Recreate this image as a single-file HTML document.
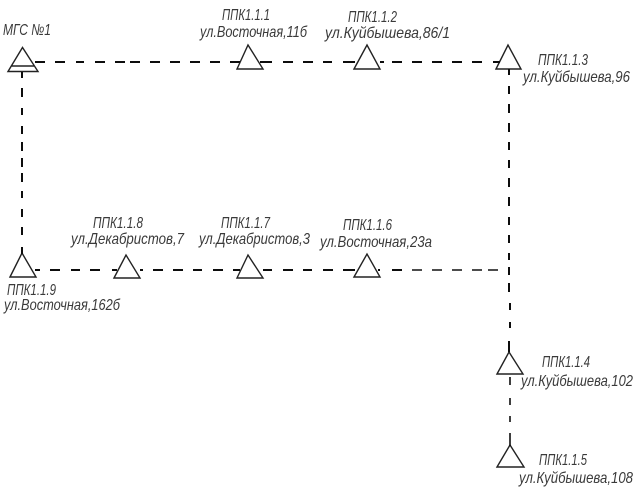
<!DOCTYPE html>
<html>
<head>
<meta charset="utf-8">
<style>
html,body{margin:0;padding:0;background:#fff}
svg{display:block}
text{font-family:"Liberation Sans","DejaVu Sans",sans-serif;font-style:italic;font-size:16px;fill:#3a3a3a;stroke:none}
</style>
</head>
<body>
<svg width="638" height="492" viewBox="0 0 638 492" xmlns="http://www.w3.org/2000/svg">
<defs><filter id="b" x="-5%" y="-5%" width="110%" height="110%"><feGaussianBlur stdDeviation="0.35"/></filter></defs>
<g filter="url(#b)">
<g fill="none" stroke="#222" stroke-width="1.4">
<path d="M8 71.5L22.5 47.5L38 71.5ZM11 66H34"/>
<path d="M237 69L248 45L263 69Z"/>
<path d="M354 69L367 45L380 69Z"/>
<path d="M496 69L508 45L521 69Z"/>
<path d="M10 277L22 253L36 277Z"/>
<path d="M114 278L126 255L140 278Z"/>
<path d="M237 278L248 255L263 278Z"/>
<path d="M354 277L367 254L380 277Z"/>
<path d="M497 374L509 352L523 374Z"/>
<path d="M497 467L510 445L524 467Z"/>
</g>
<g fill="none" stroke="#111" stroke-width="2">
<path d="M35 62H45M55 62H65M76 62H84M95 62H105M115 62H125M130 62H140M150 62H160M170 62H180M190 62H200M210 62H220M230 62H240M260 62H272M283 62H293M303 62H313M323 62H332M343 62H355M380 62H384M392 62H402M412 62H422M432 62H442M452 62H462M472 62H482M493 62H500"/>
<path d="M35 270H40M50 270H60M71 270H80M90 270H100M112 270H117M140 270H143M153 270H163M173 270H183M193 270H202M213 270H223M233 270H240M263 270H272M283 270H293M303 270H312M323 270H333M343 270H355M378 270H380M392 270H402"/>
<path d="M412 270H422M432 270H442M452 270H462M472 270H482M488 270H498" stroke-width="1.4"/>
<path d="M22 72V78M22 88V97M22 108V115M22 126V134M22 142V151M22 158V167M22 173V182M22 191V198M22 209V217M22 227V235M22 247V254"/>
<path d="M509 69V75M509 86V94M509 104V113M509 123V132M509 142V150M509 160V168M509 178V187M509 197V206M509 217V225M509 235V243M509 253V260M509 267V275M509 283V292M510 303V310M510 322V328M509 341V352"/>
<path d="M510 377V385M510 398V405M510 416V422M510 433V446" stroke-width="1.6"/>
</g>
</g>
<text x="3" y="35" textLength="48" lengthAdjust="spacingAndGlyphs">МГС №1</text>
<text x="222" y="20" textLength="48" lengthAdjust="spacingAndGlyphs">ППК1.1.1</text>
<text x="200" y="37" textLength="107" lengthAdjust="spacingAndGlyphs">ул.Восточная,11б</text>
<text x="348" y="22" textLength="49" lengthAdjust="spacingAndGlyphs">ППК1.1.2</text>
<text x="325" y="38" textLength="125" lengthAdjust="spacingAndGlyphs">ул.Куйбышева,86/1</text>
<text x="538" y="65" textLength="50" lengthAdjust="spacingAndGlyphs">ППК1.1.3</text>
<text x="523" y="82" textLength="107" lengthAdjust="spacingAndGlyphs">ул.Куйбышева,96</text>
<text x="93" y="228" textLength="50" lengthAdjust="spacingAndGlyphs">ППК1.1.8</text>
<text x="71" y="244" textLength="113" lengthAdjust="spacingAndGlyphs">ул.Декабристов,7</text>
<text x="221" y="228" textLength="49" lengthAdjust="spacingAndGlyphs">ППК1.1.7</text>
<text x="199" y="244" textLength="111" lengthAdjust="spacingAndGlyphs">ул.Декабристов,3</text>
<text x="343" y="230" textLength="49" lengthAdjust="spacingAndGlyphs">ППК1.1.6</text>
<text x="320" y="247" textLength="112" lengthAdjust="spacingAndGlyphs">ул.Восточная,23а</text>
<text x="7" y="295" textLength="49" lengthAdjust="spacingAndGlyphs">ППК1.1.9</text>
<text x="4" y="310" textLength="116" lengthAdjust="spacingAndGlyphs">ул.Восточная,162б</text>
<text x="542" y="367" textLength="48" lengthAdjust="spacingAndGlyphs">ППК1.1.4</text>
<text x="521" y="386" textLength="112" lengthAdjust="spacingAndGlyphs">ул.Куйбышева,102</text>
<text x="539" y="465" textLength="48" lengthAdjust="spacingAndGlyphs">ППК1.1.5</text>
<text x="519" y="483" textLength="114" lengthAdjust="spacingAndGlyphs">ул.Куйбышева,108</text>
</svg>
</body>
</html>
